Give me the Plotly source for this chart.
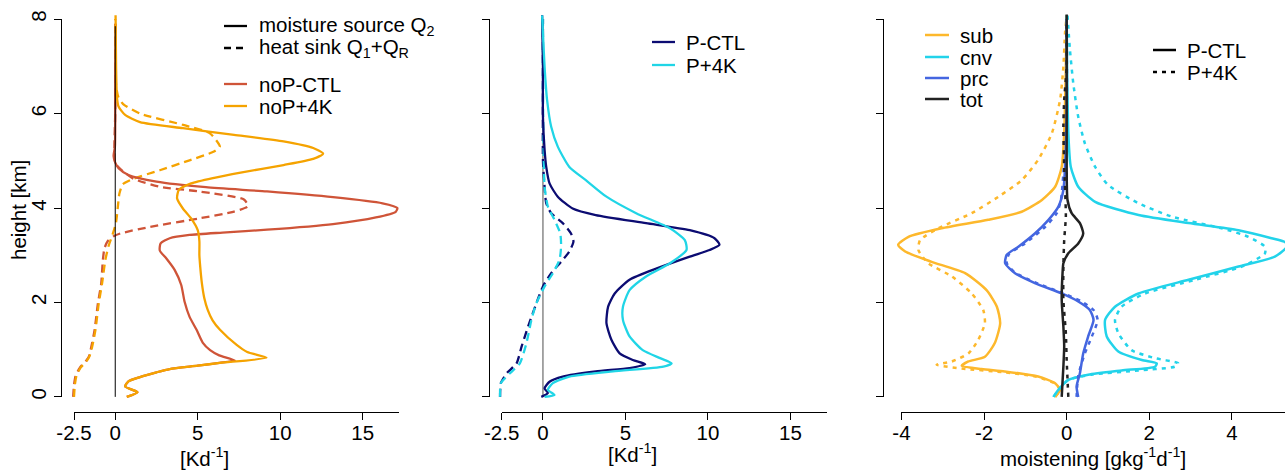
import plotly.graph_objects as go

W, H = 1285, 470
FONT = "Liberation Sans, Arial, sans-serif"
FS = 20.5

# ---------------- data (x = value, y = height in km) ----------------
# Panel 1: no-precipitation runs
noP_CTL_Q2_x = [0.7, 1.35, 0.6, 0.8, 1.5, 2.5, 3.3, 5.0, 6.3, 7.25, 6.3, 5.75, 5.3, 4.93, 4.5, 4.2, 4.0, 3.6, 3.1, 2.7, 2.75, 3.3, 4.5, 6.5, 9.2, 13.2, 15.8, 17.0, 17.1, 16.2, 13.2, 9.2, 5.5, 2.5, 0.8, 0.2, 0.0, -0.1, -0.02, 0.0, 0.0, 0.02]
noP_CTL_Q2_y = [0.0, 0.1, 0.22, 0.33, 0.42, 0.52, 0.59, 0.66, 0.72, 0.77, 0.88, 0.99, 1.15, 1.42, 1.7, 2.02, 2.37, 2.69, 2.93, 3.1, 3.25, 3.36, 3.43, 3.48, 3.54, 3.66, 3.8, 3.92, 4.0, 4.1, 4.23, 4.35, 4.44, 4.56, 4.7, 4.84, 4.96, 5.1, 5.3, 6.0, 7.0, 7.9]
noP_4K_Q2_x = [0.7, 1.35, 0.6, 0.8, 1.5, 2.5, 3.3, 5.0, 6.35, 9.17, 8.0, 7.36, 6.35, 5.9, 5.6, 5.4, 5.25, 5.15, 5.1, 5.1, 5.0, 4.6, 4.1, 3.75, 3.85, 4.6, 6.0, 7.6, 10.2, 12.0, 12.6, 12.0, 10.2, 7.2, 4.1, 1.5, 0.6, 0.2, 0.1, 0.05, 0.02]
noP_4K_Q2_y = [0.0, 0.1, 0.22, 0.33, 0.42, 0.52, 0.59, 0.66, 0.72, 0.83, 0.95, 1.1, 1.42, 1.62, 1.85, 2.09, 2.41, 2.76, 3.0, 3.3, 3.53, 3.78, 3.99, 4.2, 4.38, 4.52, 4.64, 4.75, 4.91, 5.04, 5.15, 5.27, 5.41, 5.55, 5.69, 5.82, 5.97, 6.15, 6.36, 7.0, 8.08]
noP_CTL_Q1_x = [-2.55, -2.5, -2.4, -2.14, -1.8, -1.6, -1.45, -1.25, -1.05, -0.85, -0.75, -0.65, -0.45, -0.1, 0.3, 2.1, 5.1, 7.15, 8.05, 7.8, 5.1, 2.7, 1.1, 0.3, 0.0, -0.05, 0.0, 0.0, 0.0]
noP_CTL_Q1_y = [0.0, 0.25, 0.45, 0.62, 0.75, 0.85, 1.06, 1.42, 1.98, 2.4, 2.9, 3.15, 3.3, 3.4, 3.46, 3.6, 3.78, 3.92, 4.04, 4.18, 4.35, 4.45, 4.62, 4.83, 4.95, 5.3, 6.0, 7.0, 7.9]
noP_4K_Q1_x = [-2.5, -2.45, -2.35, -2.1, -1.75, -1.55, -1.4, -1.2, -1.0, -0.8, -0.6, -0.4, -0.15, 0.05, 0.15, 0.25, 0.45, 1.1, 2.7, 4.5, 5.95, 6.34, 5.74, 4.12, 1.5, 0.48, 0.18, 0.05, 0.0, 0.0]
noP_4K_Q1_y = [0.0, 0.25, 0.45, 0.62, 0.75, 0.87, 1.06, 1.42, 1.98, 2.4, 2.9, 3.2, 3.45, 3.7, 4.0, 4.3, 4.5, 4.62, 4.8, 5.01, 5.19, 5.3, 5.58, 5.76, 6.0, 6.2, 6.36, 6.6, 7.5, 8.0]
zero_line_y = [0.0, 7.85]

# Panel 2: precipitation runs
P_CTL_Q2_x = [-0.1, 0.3, 0.1, 0.4, 1.2, 3.2, 5.25, 6.2, 5.45, 4.65, 4.15, 3.85, 3.95, 4.35, 5.25, 6.9, 8.9, 10.1, 10.7, 10.4, 8.9, 6.25, 3.2, 1.8, 0.9, 0.4, 0.2, 0.1, 0.0, 0.0, -0.05]
P_CTL_Q2_y = [0.0, 0.08, 0.18, 0.32, 0.43, 0.54, 0.61, 0.69, 0.78, 0.92, 1.21, 1.56, 1.91, 2.19, 2.48, 2.72, 2.97, 3.11, 3.22, 3.36, 3.53, 3.68, 3.85, 3.99, 4.24, 4.52, 4.87, 5.23, 5.93, 7.0, 8.08]
P_4K_Q2_x = [0.1, 0.7, 0.3, 0.6, 1.6, 4.25, 7.3, 7.8, 7.1, 6.05, 5.25, 4.85, 4.85, 5.25, 6.25, 7.7, 8.7, 8.6, 7.7, 5.65, 3.85, 2.6, 1.6, 0.9, 0.5, 0.25, 0.1, 0.0, -0.05]
P_4K_Q2_y = [0.0, 0.04, 0.15, 0.29, 0.43, 0.54, 0.64, 0.71, 0.82, 0.99, 1.28, 1.63, 1.91, 2.26, 2.55, 2.83, 3.11, 3.32, 3.57, 3.89, 4.24, 4.59, 4.87, 5.3, 5.72, 6.29, 6.99, 7.7, 8.08]
P_CTL_Q1_x = [-2.6, -2.55, -2.2, -1.6, -1.3, -0.9, -0.4, 0.0, 0.5, 1.1, 1.6, 1.85, 1.7, 1.2, 0.5, 0.2, 0.1, 0.0, 0.0, 0.0]
P_CTL_Q1_y = [0.0, 0.29, 0.5, 0.71, 1.06, 1.49, 1.98, 2.34, 2.62, 2.86, 3.08, 3.29, 3.46, 3.68, 3.89, 4.1, 4.45, 5.0, 6.5, 8.0]
P_4K_Q1_x = [-2.6, -2.55, -2.0, -1.4, -1.0, -0.7, -0.4, 0.1, 0.6, 1.0, 1.1, 1.05, 0.7, 0.3, 0.1, 0.05, 0.0, 0.0]
P_4K_Q1_y = [0.0, 0.29, 0.5, 0.71, 1.14, 1.63, 1.98, 2.34, 2.62, 2.9, 3.18, 3.46, 3.75, 4.03, 4.45, 5.0, 6.5, 8.0]

# Panel 3: moistening budget terms
sub_CTL_x = [-0.28, -0.16, -0.28, -0.69, -1.5, -2.06, -2.54, -2.38, -1.98, -1.74, -1.61, -1.69, -1.94, -2.46, -3.27, -3.91, -4.08, -3.83, -3.03, -1.9, -1.09, -0.6, -0.28, -0.12, -0.06, -0.02, 0.0]
sub_CTL_y = [0.0, 0.15, 0.29, 0.43, 0.54, 0.59, 0.66, 0.75, 0.85, 1.14, 1.56, 1.91, 2.26, 2.62, 2.86, 3.08, 3.22, 3.39, 3.57, 3.75, 3.92, 4.17, 4.45, 4.87, 5.58, 6.99, 8.08]
sub_4K_x = [-0.28, -0.16, -0.3, -0.75, -1.5, -2.54, -3.15, -2.78, -2.38, -2.14, -1.98, -2.02, -2.3, -2.78, -3.35, -3.59, -3.55, -3.11, -2.3, -1.65, -1.09, -0.69, -0.36, -0.16, -0.08, -0.04, 0.0]
sub_4K_y = [0.0, 0.15, 0.29, 0.43, 0.52, 0.6, 0.68, 0.75, 0.92, 1.21, 1.56, 1.84, 2.19, 2.55, 2.83, 3.11, 3.32, 3.57, 3.89, 4.24, 4.59, 5.02, 5.58, 6.29, 6.99, 7.7, 8.08]
cnv_CTL_x = [-0.32, -0.2, 0.04, 0.52, 1.33, 2.14, 2.18, 1.82, 1.25, 0.97, 0.93, 1.17, 1.74, 2.95, 4.16, 5.04, 5.32, 5.3, 4.96, 4.16, 2.95, 1.74, 0.69, 0.28, 0.1, 0.04, 0.01, 0.0]
cnv_CTL_y = [0.0, 0.15, 0.36, 0.47, 0.56, 0.64, 0.71, 0.78, 0.96, 1.28, 1.63, 1.91, 2.19, 2.48, 2.76, 2.97, 3.17, 3.27, 3.36, 3.53, 3.68, 3.85, 4.13, 4.45, 4.87, 5.58, 7.0, 8.08]
cnv_4K_x = [-0.32, -0.2, 0.04, 0.6, 1.74, 2.62, 2.7, 2.14, 1.57, 1.25, 1.17, 1.33, 1.9, 3.11, 4.24, 4.8, 4.8, 4.4, 3.75, 2.54, 1.74, 1.0, 0.69, 0.44, 0.28, 0.16, 0.08, 0.02]
cnv_4K_y = [0.0, 0.15, 0.36, 0.47, 0.56, 0.64, 0.71, 0.82, 0.99, 1.35, 1.63, 1.91, 2.19, 2.48, 2.76, 3.04, 3.18, 3.39, 3.57, 3.82, 4.1, 4.49, 4.87, 5.37, 5.93, 6.64, 7.34, 8.08]
prc_CTL_x = [0.28, 0.24, 0.32, 0.4, 0.52, 0.65, 0.56, 0.28, -0.12, -0.77, -1.25, -1.49, -1.45, -1.17, -0.77, -0.44, -0.2, -0.08, -0.04, 0.0, 0.0]
prc_CTL_y = [0.0, 0.22, 0.5, 0.92, 1.28, 1.63, 1.84, 2.02, 2.19, 2.41, 2.62, 2.83, 3.01, 3.18, 3.46, 3.75, 4.03, 4.38, 4.87, 6.0, 8.0]
prc_4K_x = [0.24, 0.28, 0.44, 0.61, 0.75, 0.65, 0.36, -0.1, -0.75, -1.25, -1.45, -1.4, -1.01, -0.52, -0.24, -0.14, -0.08, 0.0, 0.0]
prc_4K_y = [0.0, 0.45, 0.92, 1.28, 1.63, 1.84, 2.02, 2.2, 2.42, 2.63, 2.83, 3.02, 3.25, 3.6, 3.89, 4.17, 4.73, 6.0, 8.0]
tot_CTL_x = [-0.12, -0.08, -0.06, -0.08, -0.12, -0.1, -0.08, 0.04, 0.28, 0.4, 0.32, 0.12, 0.02, 0.0, 0.0]
tot_CTL_y = [0.0, 0.64, 1.07, 1.49, 2.05, 2.62, 2.83, 3.04, 3.25, 3.46, 3.68, 3.89, 4.17, 4.87, 8.1]
tot_4K_x = [0.04, 0.0, -0.02, -0.08, -0.08, -0.06, -0.02, -0.06, -0.08, -0.06, 0.0, 0.0]
tot_4K_y = [0.0, 0.78, 1.35, 2.05, 2.76, 3.32, 3.82, 4.87, 5.72, 6.29, 7.0, 8.0]

y_ticks = [0, 2, 4, 6, 8]
x_ticks_12 = [-2.5, 0, 5, 10, 15]
x_ticks_3 = [-4, -2, 0, 2, 4]

# ---------------- colours ----------------
C_noCTL = "#CF5438"
C_no4K = "#F5A300"
C_PCTL = "#0C0C72"
C_P4K = "#20D5E6"
C_sub = "#FDB82C"
C_cnv = "#22D3EA"
C_prc = "#4466E0"
C_tot = "#222222"

# ---------------- geometry (pixels) ----------------
def fx(px):
    return px / W

def fy(py):
    return 1 - py / H

Y_TOP, Y_BOT = 4.0, 412.0
Y_RANGE = [-0.32, 8.32]
panels = [
    dict(left=61.0, right=412.0, xr=[-3.288, 17.988], axr=[-2.5, 17.2], ticks=x_ticks_12),
    dict(left=488.7, right=839.7, xr=[-3.288, 17.988], axr=[-2.5, 17.2], ticks=x_ticks_12),
    dict(left=883.3, right=1285.0, xr=[-4.44, 5.286], axr=[-4.0, 5.286], ticks=x_ticks_3),
]

def xpx(p, v):
    return p["left"] + (v - p["xr"][0]) / (p["xr"][1] - p["xr"][0]) * (p["right"] - p["left"])

def ypx(v):
    return Y_BOT - (v - Y_RANGE[0]) / (Y_RANGE[1] - Y_RANGE[0]) * (Y_BOT - Y_TOP)

fig = go.Figure()

def add(x, y, color, panel, dash="solid", width=2.3):
    fig.add_trace(go.Scatter(
        x=x, y=y, mode="lines", xaxis=f"x{panel}" if panel > 1 else "x",
        yaxis=f"y{panel}" if panel > 1 else "y",
        line=dict(color=color, width=width, dash=dash, shape="spline", smoothing=0.6),
        showlegend=False, hoverinfo="skip"))

DASH = "8px,5px"
DOT = "4px,5px"

# panel 1
add(noP_CTL_Q1_x, noP_CTL_Q1_y, C_noCTL, 1, DASH)
add(noP_4K_Q1_x, noP_4K_Q1_y, C_no4K, 1, DASH)
add(noP_CTL_Q2_x, noP_CTL_Q2_y, C_noCTL, 1)
add(noP_4K_Q2_x, noP_4K_Q2_y, C_no4K, 1)
fig.add_trace(go.Scatter(x=[0, 0], y=zero_line_y, mode="lines", line=dict(color="black", width=1),
                         showlegend=False, hoverinfo="skip"))
# panel 2
fig.add_trace(go.Scatter(x=[0, 0], y=zero_line_y, mode="lines", xaxis="x2", yaxis="y2",
                         line=dict(color="#777777", width=1.3), showlegend=False, hoverinfo="skip"))
add(P_CTL_Q1_x, P_CTL_Q1_y, C_PCTL, 2, DASH)
add(P_4K_Q1_x, P_4K_Q1_y, C_P4K, 2, DASH)
add(P_CTL_Q2_x, P_CTL_Q2_y, C_PCTL, 2)
add(P_4K_Q2_x, P_4K_Q2_y, C_P4K, 2)
# panel 3
add(sub_4K_x, sub_4K_y, C_sub, 3, DOT, 2.5)
add(sub_CTL_x, sub_CTL_y, C_sub, 3, "solid", 2.5)
add(cnv_4K_x, cnv_4K_y, C_cnv, 3, DOT, 2.5)
add(cnv_CTL_x, cnv_CTL_y, C_cnv, 3, "solid", 2.5)
add(prc_4K_x, prc_4K_y, C_prc, 3, DOT, 2.5)
add(prc_CTL_x, prc_CTL_y, C_prc, 3, "solid", 2.5)
add(tot_4K_x, tot_4K_y, C_tot, 3, DOT, 2.5)
add(tot_CTL_x, tot_CTL_y, C_tot, 3, "solid", 2.5)

# dummy traces for display-axis subplots
for i in (4, 5, 6):
    fig.add_trace(go.Scatter(x=[None], y=[None], xaxis=f"x{i}", yaxis=f"y{i}",
                             showlegend=False, hoverinfo="skip"))

hidden = dict(visible=False, showgrid=False, zeroline=False, fixedrange=True, automargin=False)
layout = dict(width=W, height=H, margin=dict(l=0, r=0, t=0, b=0, autoexpand=False),
              paper_bgcolor="white", plot_bgcolor="rgba(0,0,0,0)",
              font=dict(family=FONT, size=FS, color="black"), showlegend=False)

ydom = [fy(Y_BOT), fy(Y_TOP)]
ydisp_dom = [fy(ypx(0)), fy(ypx(8))]
tickfont = dict(family=FONT, size=FS, color="black")
for k, p in enumerate(panels, start=1):
    sx = "" if k == 1 else str(k)
    layout[f"xaxis{sx}"] = dict(hidden, domain=[fx(p["left"]), fx(p["right"])], range=p["xr"],
                                anchor=f"y{sx}")
    layout[f"yaxis{sx}"] = dict(hidden, domain=ydom, range=Y_RANGE, anchor=f"x{sx}")
    d = k + 3
    layout[f"xaxis{d}"] = dict(
        domain=[fx(xpx(p, p["axr"][0])), fx(xpx(p, p["axr"][1]))], range=p["axr"],
        anchor="free", position=fy(Y_BOT), showline=True, linecolor="black", linewidth=1,
        ticks="outside", ticklen=7, tickwidth=1, tickcolor="black", ticklabelstandoff=-5,
        tickvals=p["ticks"], ticktext=[("%g" % t) for t in p["ticks"]],
        showgrid=False, zeroline=False, tickfont=tickfont, fixedrange=True, automargin=False)
    layout[f"yaxis{d}"] = dict(
        domain=ydisp_dom, range=[0, 8], anchor="free", position=fx(p["left"]),
        showline=True, linecolor="black", linewidth=1,
        ticks="outside", ticklen=7, tickwidth=1, tickcolor="black",
        tickvals=y_ticks, showticklabels=(k == 1), tickangle=-90,
        showgrid=False, zeroline=False, tickfont=tickfont, fixedrange=True, automargin=False)

fig.update_layout(**layout)

# ---------------- annotations (titles, legends) ----------------
ann = []
def text(px, py, s, xanchor="left", angle=0, size=FS):
    ann.append(dict(x=fx(px), y=fy(py), xref="paper", yref="paper", text=s, showarrow=False,
                    xanchor=xanchor, yanchor="middle", textangle=angle,
                    font=dict(family=FONT, size=size, color="black")))

text(18, 210, "height [km]", "center", -90)
text(205, 457, "[Kd<sup>-1</sup>]", "center")
text(632, 453, "[Kd<sup>-1</sup>]", "center")
text(1093, 457, "moistening [gkg<sup>-1</sup>d<sup>-1</sup>]", "center")

shapes = []
def leg(x0, x1, py, color, dash="solid", width=2.3):
    shapes.append(dict(type="line", xref="paper", yref="paper", x0=fx(x0), x1=fx(x1),
                       y0=fy(py), y1=fy(py), line=dict(color=color, width=width, dash=dash)))

# panel 1 legend
leg(224, 247, 26, "black")
text(257, 26, "moisture source Q<sub>2</sub>")
leg(224, 247, 48, "black", "7px,5px")
text(257, 48, "heat sink Q<sub>1</sub>+Q<sub>R</sub>")
leg(224, 247, 84, C_noCTL)
text(257, 84, "noP-CTL")
leg(224, 247, 106, C_no4K)
text(257, 106, "noP+4K")
# panel 2 legend
leg(652, 675, 42, C_PCTL)
text(684, 42, "P-CTL")
leg(652, 675, 65, C_P4K)
text(684, 65, "P+4K")
# panel 3 legends
for name, col, py in [("sub", C_sub, 35), ("cnv", C_cnv, 57), ("prc", C_prc, 78), ("tot", C_tot, 99)]:
    leg(925, 949, py, col, "solid", 2.5)
    text(958, py, name)
leg(1153, 1176, 50, "black", "solid", 2.5)
text(1185, 50, "P-CTL")
leg(1153, 1176, 72, "black", "4px,5px", 2.5)
text(1185, 72, "P+4K")

fig.update_layout(annotations=ann, shapes=shapes)
fig.write_html("out.html", config={"displayModeBar": False}, post_script=(
    "document.body.style.margin='0';document.body.style.padding='0';"
    "document.body.style.overflow='hidden';"))
